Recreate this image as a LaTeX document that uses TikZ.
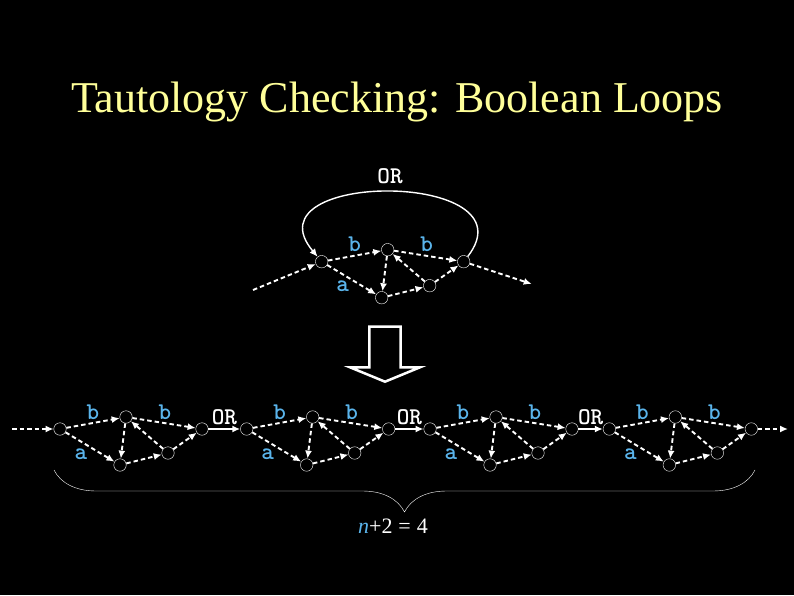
\documentclass[tikz,border=0pt]{standalone}
\usepackage{fontspec}
\setmainfont{Liberation Serif}
\usepackage{tikz}
\usetikzlibrary{arrows.meta, calc, decorations.pathreplacing}
\definecolor{titleyellow}{RGB}{255,255,153}
\definecolor{litblue}{RGB}{90,180,235}
\tikzstyle{vertex}=[draw=white,thin,circle,inner sep=0pt,minimum size=12.5pt]
\tikzstyle{wire}=[->,white,line width=1.9pt,dash pattern=on 4.5pt off 3pt]
\tikzstyle{orwire}=[->,white,line width=1.6pt]
\tikzstyle{lit}=[text=litblue,font=\ttfamily\bfseries\fontsize{24}{24}\selectfont]
\tikzstyle{gate}=[text=white,font=\ttfamily\bfseries\fontsize{24}{24}\selectfont]

\begin{document}
\begin{tikzpicture}[x=1pt,y=1pt,>={Latex[length=8pt,width=7pt]}]
	\fill[black] (0,0) rectangle (794,595);
	\node [text=titleyellow, font=\fontsize{44}{44}\selectfont, anchor=base] (title) at (397,482) {Tautology Checking: Boolean Loops};

	% one gadget on top, four in the chain below
	\foreach \g/\x/\y in {t/321.7/333.3, p/60/166, q/246.7/166, r/430/166, s/609.3/166} {
		\node [vertex] (\g-in) at (\x,\y) {};
		\node [vertex] (\g-up) at (\x+66,\y+12) {};
		\node [vertex] (\g-dn) at (\x+60,\y-36) {};
		\node [vertex] (\g-rt) at (\x+108,\y-24) {};
		\node [vertex] (\g-out) at (\x+142,\y) {};
		\node [lit] (\g-b1) at (\x+33,\y+17) {b};
		\node [lit] (\g-b2) at (\x+105,\y+17) {b};
		\node [lit] (\g-a) at (\x+21,\y-25) {a};

		\draw[wire] (\g-in) -- (\g-up);
		\draw[wire] (\g-in) -- (\g-dn);
		\draw[wire] (\g-up) -- (\g-dn);
		\draw[wire] (\g-dn) -- (\g-rt);
		\draw[wire] (\g-rt) -- (\g-up);
		\draw[wire] (\g-up) -- (\g-out);
		\draw[wire] (\g-rt) -- (\g-out);
	}

	% the loop on top
	\coordinate (t-src) at (253,305);
	\coordinate (t-snk) at (531.7,311);
	\draw[wire] (t-src) -- (t-in);
	\draw[wire] (t-out) -- (t-snk);
	\draw[orwire, line width=1.4pt] (t-out) .. controls (535,425) and (245,425) .. (t-in);
	\node [gate] (t-or) at (390,419) {OR};

	% unrolled
	\draw[white, line width=2.5pt] (369.3,268.3) -- (400.7,268.3) -- (400.7,227.7) -- (420,227.7) -- (385,213.3) -- (350,227.7) -- (369.3,227.7) -- cycle;

	\coordinate (p-src) at (12,166);
	\coordinate (s-snk) at (788,166);
	\draw[wire] (p-src) -- (p-in);
	\draw[wire] (s-out) -- (s-snk);
	\foreach \a/\b in {p/q, q/r, r/s} {
		\draw[orwire] (\a-out) -- (\b-in);
		\node [gate] (\a-or) at ($(\a-out)!.5!(\b-in)+(0,12)$) {OR};
	}

	\coordinate (lft) at (54,125);
	\coordinate (rgt) at (755,125);
	\draw[white, thin, decorate, decoration={brace, mirror, amplitude=42pt}] (lft) -- (rgt);
	\node [text=white, font=\fontsize{22}{22}\selectfont, anchor=base] (count) at (393,62) {\textcolor{litblue}{\textit{n}}+2\hspace{6pt}=\hspace{6pt}4};
\end{tikzpicture}
\end{document}
